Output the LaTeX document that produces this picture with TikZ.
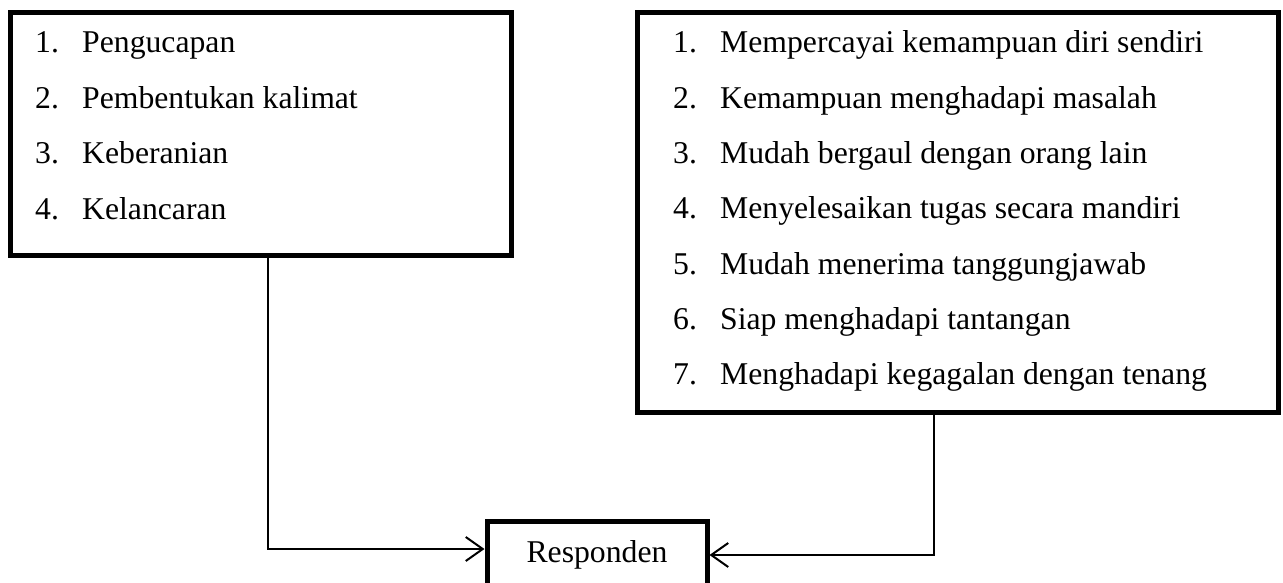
\documentclass[tikz,border=0pt]{standalone}
\usepackage{fontspec}
\setmainfont{Liberation Serif}
\usetikzlibrary{arrows.meta}
\tikzset{
  bigbox/.style={draw=black, line width=5pt, rectangle, inner sep=0pt, fill=none},
  item/.style={anchor=base west, inner sep=0pt, font=\fontsize{31.7}{38}\selectfont},
  conn/.style={draw=black, line width=2pt, -{Straight Barb[length=17pt,width=24pt,line width=2pt]}},
}
\begin{document}
\begin{tikzpicture}[x=1pt,y=-1pt]
\useasboundingbox (0,0) rectangle (1283,583);
\clip (0,0) rectangle (1283,583);
% boxes
\node[bigbox, minimum width=501pt, minimum height=242pt] (L) at (260.5,134) {};
\node[bigbox, minimum width=641pt, minimum height=399pt] (R) at (957.5,212.5) {};
\node[bigbox, minimum width=220pt, minimum height=68pt, font=\fontsize{31.7}{38}\selectfont] (resp) at (597,555) {Responden};
% left list
\node[item] (ln1) at (35,53) {1.};    \node[item] (lt1) at (82,53) {Pengucapan};
\node[item] (ln2) at (35,108.5) {2.}; \node[item] (lt2) at (82,108.5) {Pembentukan kalimat};
\node[item] (ln3) at (35,164) {3.};   \node[item] (lt3) at (82,164) {Keberanian};
\node[item] (ln4) at (35,219.5) {4.}; \node[item] (lt4) at (82,219.5) {Kelancaran};
% right list
\node[item] (rn1) at (673,53) {1.};     \node[item] (rt1) at (720,53) {Mempercayai kemampuan diri sendiri};
\node[item] (rn2) at (673,108.3) {2.};  \node[item] (rt2) at (720,108.3) {Kemampuan menghadapi masalah};
\node[item] (rn3) at (673,163.6) {3.};  \node[item] (rt3) at (720,163.6) {Mudah bergaul dengan orang lain};
\node[item] (rn4) at (673,218.9) {4.};  \node[item] (rt4) at (720,218.9) {Menyelesaikan tugas secara mandiri};
\node[item] (rn5) at (673,274.2) {5.};  \node[item] (rt5) at (720,274.2) {Mudah menerima tanggungjawab};
\node[item] (rn6) at (673,329.5) {6.};  \node[item] (rt6) at (720,329.5) {Siap menghadapi tantangan};
\node[item] (rn7) at (673,384.8) {7.};  \node[item] (rt7) at (720,384.8) {Menghadapi kegagalan dengan tenang};
% connectors
\coordinate (lc) at (268,549);
\coordinate (rc) at (934,555);
\draw[conn] (L.south -| lc) -- (lc) -- (resp.west |- lc);
\draw[conn] (R.south -| rc) -- (rc) -- (resp.east |- rc);
\end{tikzpicture}
\end{document}
